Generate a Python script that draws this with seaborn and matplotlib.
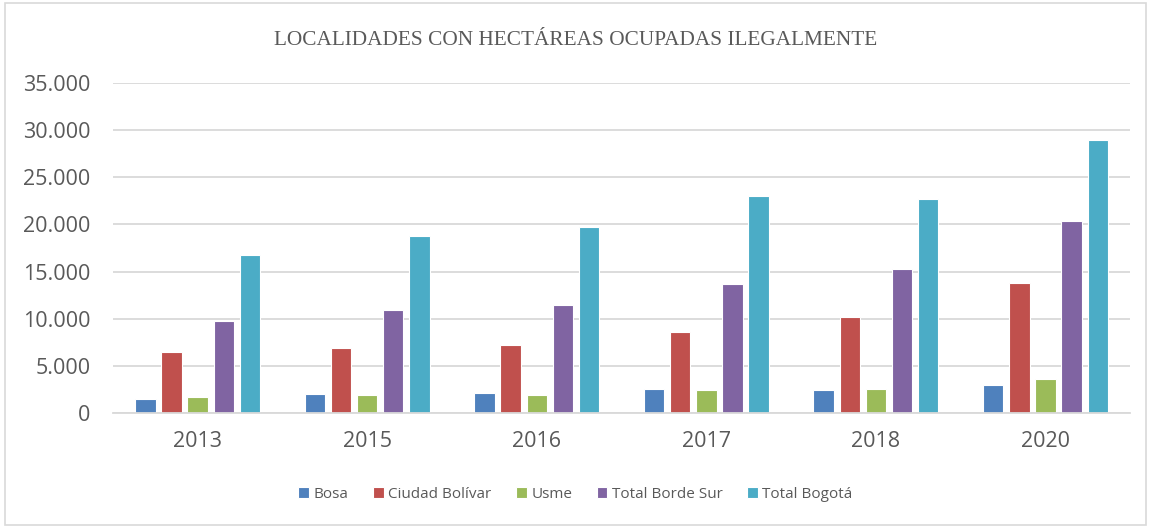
import matplotlib
matplotlib.use("Agg")
import matplotlib.pyplot as plt
import seaborn as sns
import pandas as pd
from matplotlib.ticker import FuncFormatter
from matplotlib.patches import Rectangle

years = ["2013", "2015", "2016", "2017", "2018", "2020"]
series = ["Bosa", "Ciudad Bolívar", "Usme", "Total Borde Sur", "Total Bogotá"]
bosa = [1530, 2010, 2150, 2580, 2470, 3000]
ciudad_bolivar = [6470, 6850, 7210, 8550, 10180, 13750]
usme = [1650, 1870, 1940, 2440, 2540, 3570]
borde_sur = [9790, 10880, 11410, 13680, 15270, 20390]
bogota = [16750, 18800, 19760, 22970, 22720, 28940]
colors = ["#4F81BD", "#C0504D", "#9BBB59", "#8064A2", "#4BACC6"]
yticks = [0, 5000, 10000, 15000, 20000, 25000, 30000, 35000]
title = "LOCALIDADES CON HECTÁREAS OCUPADAS ILEGALMENTE"

rows = []
for name, vals in zip(series, [bosa, ciudad_bolivar, usme, borde_sur, bogota]):
    for y, v in zip(years, vals):
        rows.append({"Año": y, "Serie": name, "Valor": v})
df = pd.DataFrame(rows)

sns.set_theme(style="white")
plt.rcParams["font.family"] = ["Open Sans", "DejaVu Sans"]

fig = plt.figure(figsize=(11.51, 5.27), dpi=100)
ax = fig.add_axes([0.098, 0.2163, 0.884, 0.6262])

sns.barplot(data=df, x="Año", y="Valor", hue="Serie", order=years, hue_order=series,
            palette=colors, width=0.77, gap=0.22, edgecolor="white", linewidth=0.8,
            saturation=1, ax=ax, errorbar=None)

ax.set_ylim(0, 35000)
ax.set_yticks(yticks)
ax.yaxis.set_major_formatter(FuncFormatter(lambda v, p: f"{v:,.0f}".replace(",", ".")))
ax.grid(axis="y", color="#D9D9D9", linewidth=1.3)
ax.set_axisbelow(True)
for s in ["top", "right", "left"]:
    ax.spines[s].set_visible(False)
ax.spines["bottom"].set_color("#D9D9D9")
ax.spines["bottom"].set_linewidth(1.3)
ax.tick_params(axis="both", length=0, labelsize=15.5, colors="#595959")
ax.tick_params(axis="x", pad=13)
ax.tick_params(axis="y", pad=16)
ax.set_xlabel("")
ax.set_ylabel("")

handles, labels = ax.get_legend_handles_labels()
ax.legend(handles, labels, ncol=5, frameon=False, loc="center",
          bbox_to_anchor=(0.5, 0.062), bbox_transform=fig.transFigure,
          fontsize=11, handlelength=0.7, handleheight=0.7, handletextpad=0.3,
          columnspacing=1.6, labelcolor="#595959")

fig.text(0.5, 0.924, title, ha="center", va="center", fontsize=15.3,
         color="#595959", family="Liberation Serif")

fig.patches.append(Rectangle((0.004, 0.004), 0.992, 0.99, transform=fig.transFigure,
                             fill=False, edgecolor="#D9D9D9", linewidth=1.2))

fig.savefig("out.png", dpi=100)
